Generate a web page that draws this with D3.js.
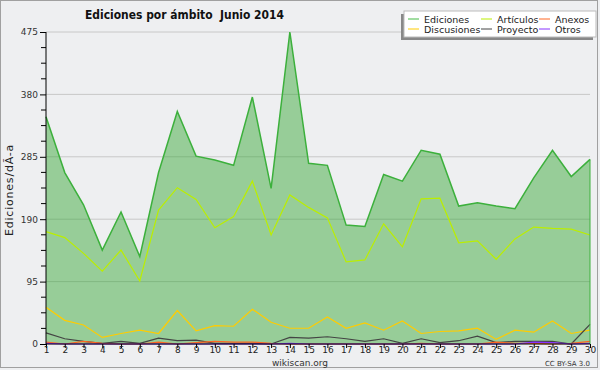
<!DOCTYPE html>
<html><head><meta charset="utf-8">
<script src="https://cdn.jsdelivr.net/npm/d3@7"></script>
<style>
html,body{margin:0;padding:0;background:#eeeff1;}
svg{display:block;}
text{font-family:"DejaVu Sans",sans-serif;}
</style></head>
<body>
<svg id="c" width="600" height="370"></svg>
<script>
const days = d3.range(1, 31);
const ediciones = [346, 261, 212, 143, 201, 133, 261, 354, 286, 280, 272, 376, 237, 475, 275, 272, 181, 179, 258, 248, 295, 289, 210, 215, 210, 206, 253, 295, 255, 281];
const articulos = [171, 162, 138, 111, 143, 96, 204, 238, 220, 177, 194, 248, 166, 227, 208, 192, 125, 128, 183, 148, 221, 222, 154, 157, 129, 160, 178, 176, 175, 166];
const discusiones = [56, 36, 29, 10, 16, 21, 16, 51, 20, 28, 27, 53, 33, 24, 24, 41, 24, 32, 21, 35, 16, 19, 20, 24, 7, 21, 18, 35, 16, 21];
const proyecto = [17, 8, 4, 1, 4, 1, 9, 5, 6, 1, 1, 1, 0, 10, 9, 11, 8, 4, 8, 1, 8, 2, 5, 12, 2, 4, 4, 4, 0, 30];
const anexos = [3, 0, 4, 1, 0, 0, 3, 0, 2, 4, 3, 3, 1, 0, 0, 0, 0, 0, 0, 0, 1, 0, 0, 0, 3, 1, 1, 0, 1, 4];
const otros = [1, 0, 0, 0, 0, 0, 0, 0, 0, 0, 0, 0, 0, 1, 0, 0, 0, 0, 0, 0, 0, 0, 0, 0, 0, 0, 3, 2, 0, 1];
const yMajor = [0, 95, 190, 285, 380, 475];
const seriesNames = ["Ediciones", "Artículos", "Anexos", "Discusiones", "Proyecto", "Otros"];
const seriesColors = ["#44bb44", "#bbee00", "#ff6622", "#ffcc00", "#444444", "#8833ff"];

const svg = d3.select("#c");
const L = 46, R = 590, T = 32, B = 344;
const x = d3.scaleLinear().domain([1, 30]).range([L, R]);
const y = d3.scaleLinear().domain([0, 475]).range([B, T]);

// frame
svg.append("rect").attr("x", 0.5).attr("y", 0.5).attr("width", 597).attr("height", 367)
  .attr("fill", "#eeeff1").attr("stroke", "#a0a0a0");

// grid
svg.append("g").selectAll("line").data(yMajor.slice(1)).join("line")
  .attr("x1", L).attr("x2", R).attr("y1", d => y(d)).attr("y2", d => y(d))
  .attr("stroke", "#c8c8c8").attr("stroke-width", 1);

// area
const area = d3.area().x((d, i) => x(days[i])).y0(y(0)).y1(d => y(d));
svg.append("path").datum(ediciones).attr("d", area).attr("fill", "rgb(45,165,45)").attr("fill-opacity", 0.45);
const line = d3.line().x((d, i) => x(days[i])).y(d => y(d));
svg.append("path").datum(ediciones).attr("d", line).attr("fill", "none").attr("stroke", "#3cb03c").attr("stroke-width", 1.5);
svg.append("path").datum(articulos).attr("d", line).attr("fill", "none").attr("stroke", seriesColors[1]).attr("stroke-width", 1.2);
svg.append("path").datum(discusiones).attr("d", line).attr("fill", "none").attr("stroke", seriesColors[3]).attr("stroke-width", 1.2);
svg.append("path").datum(proyecto).attr("d", line).attr("fill", "none").attr("stroke", seriesColors[4]).attr("stroke-width", 1.2);
svg.append("path").datum(anexos).attr("d", line).attr("fill", "none").attr("stroke", seriesColors[2]).attr("stroke-width", 1.2);
svg.append("path").datum(otros).attr("d", line).attr("fill", "none").attr("stroke", seriesColors[5]).attr("stroke-width", 1.2);
svg.append("line").attr("x1", R).attr("x2", R).attr("y1", y(ediciones[29])).attr("y2", B).attr("stroke", "#3cb03c").attr("stroke-width", 1);

// y axis
const yAxis = d3.axisLeft(y).tickValues(yMajor).tickSize(6).tickPadding(2);
const gy = svg.append("g").attr("transform", `translate(${L},0)`).call(yAxis);
const minor = d3.range(0, 475.1, 23.75).filter(v => !yMajor.includes(v));
gy.selectAll(".minor").data(minor).join("line").attr("class", "minor")
  .attr("x1", -5).attr("x2", 0).attr("y1", d => y(d)).attr("y2", d => y(d)).attr("stroke", "#000");
gy.select(".domain").attr("stroke", "#000").attr("d", `M0,${T}V${B}`);
gy.selectAll(".tick text").attr("font-size", 9).attr("fill", "#333").attr("font-family", "DejaVu Sans");

// x axis
const xAxis = d3.axisBottom(x).tickValues(days).tickSize(4).tickPadding(0).tickFormat(d3.format("d"));
const gx = svg.append("g").attr("transform", `translate(0,${B})`).call(xAxis);
gx.select(".domain").attr("d", `M${L},0H${R}`).attr("stroke", "#000");
gx.selectAll(".tick text").attr("font-size", 9).attr("fill", "#222").attr("font-family", "DejaVu Sans")
  .attr("dy", "0.6em");

// title
svg.append("text").attr("x", 85).attr("y", 19)
  .attr("font-size", 13).attr("font-weight", "bold").attr("fill", "#111")
  .attr("font-family", "DejaVu Sans").style("white-space", "pre")
  .attr("textLength", 199).attr("lengthAdjust", "spacingAndGlyphs")
  .text("Ediciones por ámbito  Junio 2014");

// y label
svg.append("text").attr("transform", "translate(13,190) rotate(-90)").attr("text-anchor", "middle")
  .attr("font-size", 11).attr("letter-spacing", 0.8).attr("fill", "#222").text("Ediciones/dÃ-a");

// footer
svg.append("text").attr("x", 300).attr("y", 366).attr("text-anchor", "middle")
  .attr("font-size", 9).attr("fill", "#333").text("wikiscan.org");
svg.append("text").attr("x", 590).attr("y", 366).attr("text-anchor", "end")
  .attr("font-size", 7).attr("fill", "#333").text("CC BY-SA 3.0");

// legend
const lg = svg.append("g");
lg.append("rect").attr("x", 401).attr("y", 14).attr("width", 192).attr("height", 26).attr("fill", "#888");
lg.append("rect").attr("x", 404).attr("y", 11).attr("width", 192).attr("height", 26).attr("fill", "#fff").attr("stroke", "#bbb");
const colX = [408, 481, 539];
seriesNames.forEach((n, i) => {
  const cx = colX[i % 3], cy = i < 3 ? 19 : 29;
  lg.append("line").attr("x1", cx).attr("x2", cx + 11).attr("y1", cy).attr("y2", cy)
    .attr("stroke", seriesColors[i]).attr("stroke-width", 1);
  lg.append("text").attr("x", cx + 16).attr("y", cy + 3.5).attr("font-size", 9.5).attr("fill", "#222").text(n);
});
</script>
</body></html>
